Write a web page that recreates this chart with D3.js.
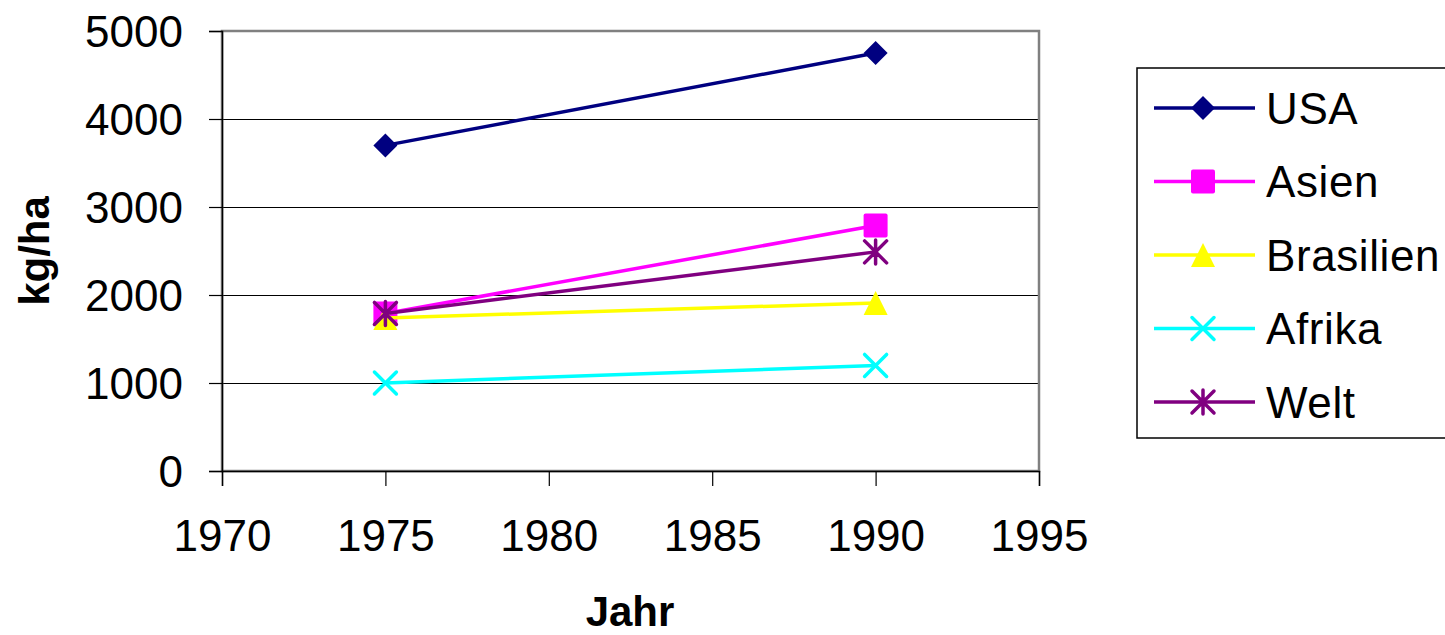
<!DOCTYPE html>
<html>
<head>
<meta charset="utf-8">
<script src="https://cdn.jsdelivr.net/npm/d3@7"></script>
<style>
  body { margin: 0; background: #fff; }
  svg { display: block; font-family: "Liberation Sans", Arial, sans-serif; }
</style>
</head>
<body>
<div id="chart"></div>
<script>
window.addEventListener('load', makeChart);

const years = [1975, 1990];
const seriesNames = ["USA", "Asien", "Brasilien", "Afrika", "Welt"];
const usa = [3700, 4750];
const asien = [1790, 2790];
const brasilien = [1740, 1910];
const afrika = [1000, 1200];
const welt = [1790, 2490];
const xTicks = [1970, 1975, 1980, 1985, 1990, 1995];
const yTicks = [0, 1000, 2000, 3000, 4000, 5000];
const colors = ["#000080", "#ff00ff", "#ffff00", "#00ffff", "#800080"];
const shapes = ["diamond", "square", "triangle", "x", "star"];

function makeChart(){
  let width = 1445, height = 635;
  let left = 222, right = 1039, top = 31, bottom = 471;

  let x = d3.scaleLinear().domain([1970, 1995]).range([left, right]);
  let y = d3.scaleLinear().domain([0, 5000]).range([bottom, top]);

  const svg = d3.select("#chart").append("svg")
      .attr("width", width)
      .attr("height", height);

  // gridlines
  svg.append("g")
    .selectAll("line")
    .data(yTicks.filter(d => d > 0 && d < 5000))
    .join("line")
      .attr("x1", left).attr("x2", right)
      .attr("y1", d => y(d) + 0.5).attr("y2", d => y(d) + 0.5)
      .attr("stroke", "#000").attr("stroke-width", 1.2);

  // plot frame (gray)
  svg.append("rect")
      .attr("x", left).attr("y", top)
      .attr("width", right - left).attr("height", bottom - top)
      .attr("fill", "none").attr("stroke", "#808080").attr("stroke-width", 2.5);

  // axes
  const yAxis = svg.append("g")
      .attr("transform", `translate(${left},0)`)
      .call(d3.axisLeft(y).tickValues(yTicks).tickSize(13).tickPadding(26).tickFormat(d3.format("d")));
  const xAxis = svg.append("g")
      .attr("transform", `translate(0,${bottom})`)
      .call(d3.axisBottom(x).tickValues(xTicks).tickSize(15).tickPadding(34).tickFormat(d3.format("d")));

  [yAxis, xAxis].forEach(g => {
    g.select(".domain").attr("stroke", "#000").attr("stroke-width", 1.5);
    g.selectAll(".tick line").attr("stroke", "#000").attr("stroke-width", 1.2);
    g.selectAll("text").attr("font-size", 44).attr("fill", "#000")
      .attr("font-family", '"Liberation Sans", Arial, sans-serif');
  });
  yAxis.selectAll("text").attr("dy", "0.36em");

  svg.append("text")
      .attr("transform", `translate(49,${(top + bottom) / 2}) rotate(-90)`)
      .attr("text-anchor", "middle")
      .attr("font-size", 42).attr("font-weight", "bold")
      .text("kg/ha");

  svg.append("text")
      .attr("x", 630)
      .attr("y", 626)
      .attr("text-anchor", "middle")
      .attr("font-size", 42).attr("font-weight", "bold")
      .text("Jahr");

  const data = [usa, asien, brasilien, afrika, welt];
  const line = d3.line().x((d, i) => x(years[i])).y(d => y(d));

  const series = svg.append("g")
    .selectAll("g")
    .data(data)
    .join("g");

  series.append("path")
      .attr("d", d => line(d))
      .attr("fill", "none")
      .attr("stroke", (d, i) => colors[i])
      .attr("stroke-width", 3.5);

  series.each(function(vals, si) {
    const g = d3.select(this);
    vals.forEach((v, i) => drawMarker(g, shapes[si], colors[si], x(years[i]), y(v)));
  });

  // legend
  const legend = svg.append("g");
  legend.append("rect")
      .attr("x", 1137).attr("y", 68)
      .attr("width", 330).attr("height", 370)
      .attr("fill", "#fff").attr("stroke", "#000").attr("stroke-width", 1.5);

  const rows = legend.selectAll("g.row")
    .data(seriesNames)
    .join("g")
      .attr("class", "row")
      .attr("transform", (d, i) => `translate(0,${108 + i * 73.5})`);

  rows.append("line")
      .attr("x1", 1154).attr("x2", 1255)
      .attr("stroke", (d, i) => colors[i]).attr("stroke-width", 3.5);
  rows.each(function(d, i) {
    drawMarker(d3.select(this), shapes[i], colors[i], 1203, 0);
  });
  rows.append("text")
      .attr("x", 1266).attr("dy", "0.36em")
      .attr("font-size", 44)
      .attr("letter-spacing", 0.6)
      .text(d => d);

  function drawMarker(g, shape, color, cx, cy) {
    if (shape === "diamond") {
      g.append("path")
        .attr("d", `M${cx},${cy - 12}L${cx + 12},${cy}L${cx},${cy + 12}L${cx - 12},${cy}Z`)
        .attr("fill", color);
    } else if (shape === "square") {
      g.append("rect")
        .attr("x", cx - 12).attr("y", cy - 12).attr("width", 24).attr("height", 24)
        .attr("rx", 2).attr("fill", color);
    } else if (shape === "triangle") {
      g.append("path")
        .attr("d", `M${cx},${cy - 12}L${cx + 12},${cy + 12}L${cx - 12},${cy + 12}Z`)
        .attr("fill", color);
    } else if (shape === "x") {
      g.append("path")
        .attr("d", `M${cx - 11},${cy - 11}L${cx + 11},${cy + 11}M${cx - 11},${cy + 11}L${cx + 11},${cy - 11}`)
        .attr("stroke", color).attr("stroke-width", 3.5).attr("stroke-linecap", "round");
    } else {
      g.append("path")
        .attr("d", `M${cx - 11},${cy - 11}L${cx + 11},${cy + 11}M${cx - 11},${cy + 11}L${cx + 11},${cy - 11}M${cx},${cy - 12}L${cx},${cy + 12}`)
        .attr("stroke", color).attr("stroke-width", 3.5).attr("stroke-linecap", "round");
    }
  }
}
</script>
</body>
</html>
